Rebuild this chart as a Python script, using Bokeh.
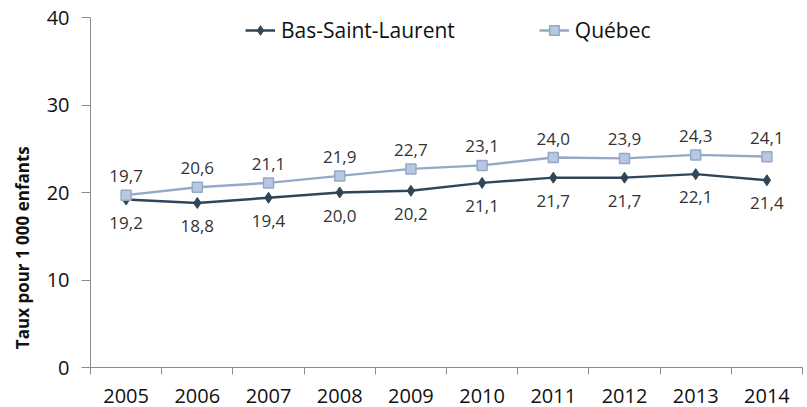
from bokeh.plotting import figure
from bokeh.models import (ColumnDataSource, FixedTicker, Legend, LegendItem,
                          Range1d)
from bokeh.core.properties import value
from bokeh.embed import file_html
from bokeh.resources import INLINE

years = [2005, 2006, 2007, 2008, 2009, 2010, 2011, 2012, 2013, 2014]
bsl = [19.2, 18.8, 19.4, 20.0, 20.2, 21.1, 21.7, 21.7, 22.1, 21.4]
qc = [19.7, 20.6, 21.1, 21.9, 22.7, 23.1, 24.0, 23.9, 24.3, 24.1]
y_ticks = [0, 10, 20, 30, 40]
series_names = ["Bas-Saint-Laurent", "Québec"]
y_title = "Taux pour 1 000 enfants"

FONT = "Open Sans"
C_BSL = "#2F4558"
C_QC = "#94A9C8"
C_QC_FILL = "#B8C8E0"


def fmt(v):
    return f"{v:.1f}".replace(".", ",")


src = ColumnDataSource(dict(
    x=years, bsl=bsl, qc=qc,
    bsl_lbl=[fmt(v) for v in bsl], qc_lbl=[fmt(v) for v in qc],
))

p = figure(width=807, height=407, output_backend="svg", toolbar_location=None,
           x_range=Range1d(years[0] - 0.5, years[-1] + 0.5),
           y_range=Range1d(0, 40),
           min_border_left=90, min_border_right=5, min_border_top=17,
           min_border_bottom=40)
p.outline_line_color = None
p.xgrid.grid_line_color = None
p.ygrid.grid_line_color = None
p.background_fill_color = "white"
p.border_fill_color = "white"

# axes
xa = p.xaxis[0]
xa.ticker = FixedTicker(ticks=years,
                        minor_ticks=[y - 0.5 for y in years] + [years[-1] + 0.5])
xa.major_tick_line_color = None
xa.minor_tick_out = 7
xa.minor_tick_in = 0
xa.minor_tick_line_color = "#8C8C8C"
xa.axis_line_color = "#8C8C8C"
xa.major_label_text_font = FONT
xa.major_label_text_font_size = "20px"
xa.major_label_text_color = "#111111"
xa.major_label_standoff = 14

ya = p.yaxis[0]
ya.ticker = FixedTicker(ticks=y_ticks)
ya.minor_tick_line_color = None
ya.major_tick_out = 9
ya.major_tick_in = 0
ya.major_tick_line_color = "#8C8C8C"
ya.axis_line_color = "#8C8C8C"
ya.major_label_text_font = FONT
ya.major_label_text_font_size = "20px"
ya.major_label_text_color = "#111111"
ya.major_label_standoff = 12
# trailing no-break spaces shift the centred title down, as in the reference
ya.axis_label = y_title + "\u00a0" * 25
ya.axis_label_text_font = FONT
ya.axis_label_text_font_size = "17px"
ya.axis_label_text_font_style = "bold"
ya.axis_label_text_color = "#111111"
ya.axis_label_standoff = 10

# series
r1 = p.line("x", "bsl", source=src, line_color=C_BSL, line_width=2.5)
m1 = p.scatter("x", "bsl", source=src, marker="diamond", size=11,
               fill_color=C_BSL, line_color=C_BSL)
r2 = p.line("x", "qc", source=src, line_color=C_QC, line_width=2.5)
m2 = p.scatter("x", "qc", source=src, marker="square", size=10,
               fill_color=C_QC_FILL, line_color=C_QC, line_width=1.5)

p.text("x", "qc", text="qc_lbl", source=src, y_offset=-19,
       text_align="center", text_baseline="middle",
       text_font=value(FONT), text_font_size="17px", text_color="#333333")
p.text("x", "bsl", text="bsl_lbl", source=src, y_offset=23,
       text_align="center", text_baseline="middle",
       text_font=value(FONT), text_font_size="17px", text_color="#333333")

legend = Legend(items=[LegendItem(label=series_names[0], renderers=[r1, m1]),
                       LegendItem(label=series_names[1], renderers=[r2, m2])],
                orientation="horizontal", location=(155, 323),
                border_line_color=None, background_fill_alpha=0,
                label_text_font=FONT, label_text_font_size="21px",
                label_text_color="#111111",
                glyph_width=30, glyph_height=24, label_standoff=6,
                spacing=84, padding=0, margin=0)
p.add_layout(legend, "center")

open("out.html", "w").write(file_html(p, INLINE))
